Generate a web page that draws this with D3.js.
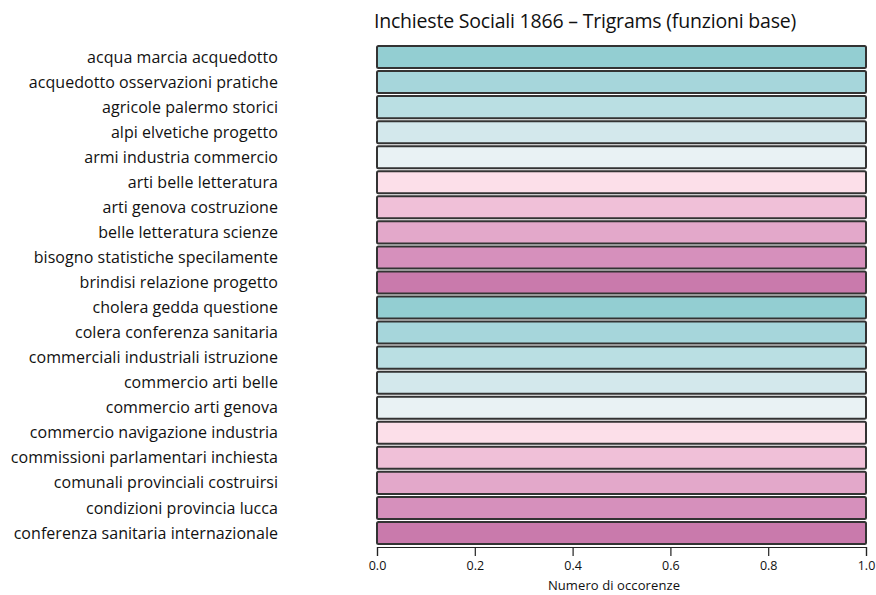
<!DOCTYPE html>
<html>
<head>
<meta charset="utf-8">
<script src="https://cdn.jsdelivr.net/npm/d3@7"></script>
<style>
  body { margin: 0; background: #fff; }
  text { font-family: "Open Sans", sans-serif; fill: #111; }
</style>
</head>
<body>
<div id="chart"></div>
<script>
const width = 876;
const height = 595;

// trigram labels, top to bottom
const trigrams = [
    "acqua marcia acquedotto",
    "acquedotto osservazioni pratiche",
    "agricole palermo storici",
    "alpi elvetiche progetto",
    "armi industria commercio",
    "arti belle letteratura",
    "arti genova costruzione",
    "belle letteratura scienze",
    "bisogno statistiche specilamente",
    "brindisi relazione progetto",
    "cholera gedda questione",
    "colera conferenza sanitaria",
    "commerciali industriali istruzione",
    "commercio arti belle",
    "commercio arti genova",
    "commercio navigazione industria",
    "commissioni parlamentari inchiesta",
    "comunali provinciali costruirsi",
    "condizioni provincia lucca",
    "conferenza sanitaria internazionale"
];
const counts = [1, 1, 1, 1, 1, 1, 1, 1, 1, 1, 1, 1, 1, 1, 1, 1, 1, 1, 1, 1];

// palette repeats every 10 bars
const palette = ["#93ced2", "#a6d6db", "#badfe3", "#d3e8ec", "#e9f2f4",
                 "#fcdfe9", "#f0c0d8", "#e3a8ca", "#d690bc", "#c97aac"];
const xTicks = [0, 0.2, 0.4, 0.6, 0.8, 1.0];

const svg = d3.select('#chart').append('svg')
    .attr('width', width)
    .attr('height', height);

const x = d3.scaleLinear().domain([0, 1]).range([377, 866]);
const y = d3.scaleBand().domain(trigrams).range([44.5, 545.5]).paddingInner(0.12).paddingOuter(0.06);

// bars
svg.append('g').selectAll('rect')
    .data(trigrams)
    .enter()
    .append('rect')
    .attr('x', x(0))
    .attr('y', d => y(d))
    .attr('width', (d, i) => x(counts[i]) - x(0))
    .attr('height', y.bandwidth())
    .attr('rx', 1.5)
    .style('fill', (d, i) => palette[i % palette.length])
    .style('stroke', '#333')
    .style('stroke-width', 2);

// category labels
svg.append('g').selectAll('text')
    .data(trigrams)
    .enter()
    .append('text')
    .attr('x', 278)
    .attr('y', d => y(d) + y.bandwidth() / 2)
    .attr('dy', '0.35em')
    .attr('text-anchor', 'end')
    .style('font-size', '16px')
    .style('letter-spacing', '0.05px')
    .text(d => d);

// x axis, R style
const axis = svg.append('g')
    .attr('transform', 'translate(0,547)')
    .call(d3.axisBottom(x).tickValues(xTicks).tickFormat(d3.format('.1f')).tickSize(9).tickPadding(5));
axis.select('.domain').attr('stroke', '#222').attr('stroke-width', 1.2);
axis.selectAll('.tick line').attr('stroke', '#222').attr('stroke-width', 1.2);
axis.selectAll('.tick text').style('font-size', '12.5px').style('font-family', '"Open Sans", sans-serif');

svg.append('text')
    .attr('x', 614)
    .attr('y', 590)
    .attr('text-anchor', 'middle')
    .style('font-size', '13px')
    .style('letter-spacing', '0.1px')
    .text('Numero di occorenze');

svg.append('text')
    .attr('x', 585)
    .attr('y', 28)
    .attr('text-anchor', 'middle')
    .style('font-size', '19.5px')
    .style('letter-spacing', '-0.2px')
    .text('Inchieste Sociali 1866 – Trigrams (funzioni base)');
</script>
</body>
</html>
